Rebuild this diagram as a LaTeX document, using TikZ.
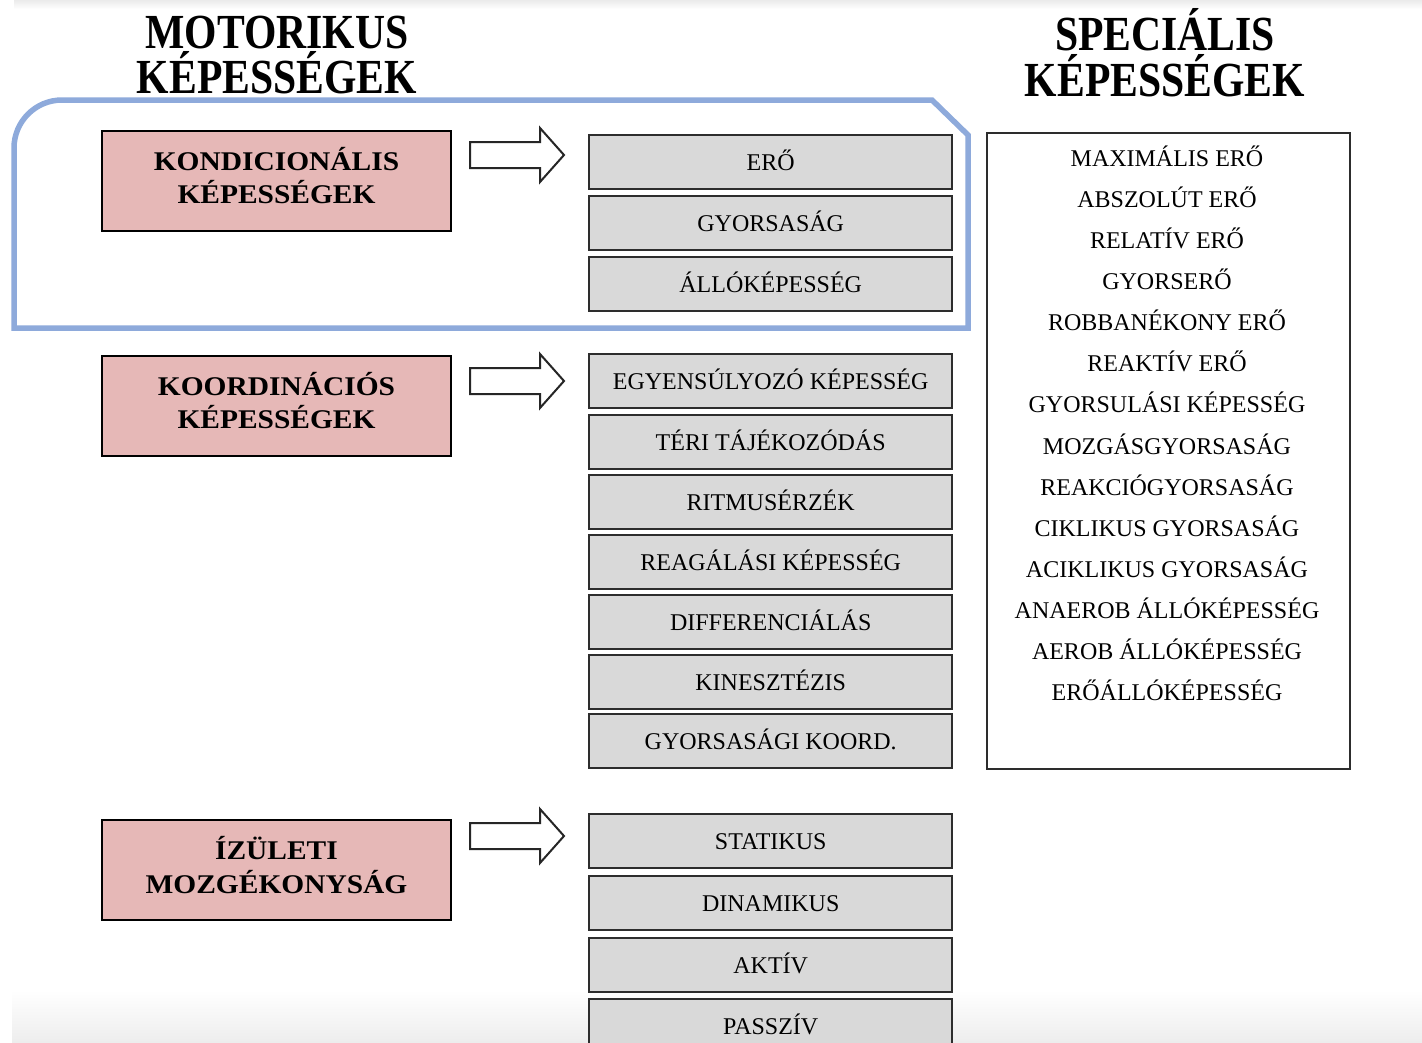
\documentclass[tikz,border=0pt]{standalone}
\usepackage{fontspec}
\setmainfont{Liberation Serif}
\newfontfamily\titlefont[FakeStretch=0.85]{Liberation Serif}
\newfontfamily\boxfont[FakeStretch=1.09]{Liberation Serif}
\definecolor{graybg}{RGB}{217,217,217}
\definecolor{pinkbg}{RGB}{230,184,183}
\definecolor{frameblue}{RGB}{142,170,219}
\definecolor{edgegray}{RGB}{45,45,45}
\tikzset{
  graybox/.style={draw=edgegray, line width=2.4pt, fill=graybg, minimum width=363pt,
    minimum height=54pt, inner sep=0pt, text height=16pt, text depth=0pt,
    font=\fontsize{24}{28}\selectfont, anchor=north west},
  pinkbox/.style={draw=black, line width=2pt, fill=pinkbg, minimum width=349pt,
    minimum height=100pt, inner sep=0pt, anchor=north west},
  pinktext/.style={anchor=base, inner sep=0pt, font=\boxfont\bfseries\fontsize{27}{30}\selectfont},
  titletext/.style={anchor=base, inner sep=0pt, font=\titlefont\bfseries\fontsize{49}{52}\selectfont},
  listtext/.style={anchor=base, inner sep=0pt, font=\fontsize{24}{28}\selectfont},
  listbox/.style={draw=edgegray, line width=2.4pt, fill=white, minimum width=363pt,
    minimum height=636pt, inner sep=0pt, anchor=north west},
  blockarrow/.style={draw=black!85, line width=2pt, fill=white, line join=miter},
  frame/.style={draw=frameblue, line width=5.5pt, line join=miter}
}
\begin{document}
\begin{tikzpicture}[x=1pt,y=-1pt]
\useasboundingbox (0,0) rectangle (1422,1042);
\clip (0,0) rectangle (1422,1042);
% background artefacts
\fill[white] (0,0) rectangle (1422,1042);
\shade[top color=white, bottom color=black!7] (12,990) rectangle (1422,1042);
\shade[top color=black!8, bottom color=white] (14,0) rectangle (1422,9);

% titles
\node[titletext] (t1a) at (277,48) {MOTORIKUS};
\node[titletext] (t1b) at (277,93) {KÉPESSÉGEK};
\node[titletext] (t2a) at (1165,50) {SPECIÁLIS};
\node[titletext] (t2b) at (1165,96) {KÉPESSÉGEK};

% blue frame
\path[frame] (14,328) -- (14,148) .. controls (14,121.5) and (35.5,100) .. (62,100)
  -- (932,100) -- (968,135) -- (968,328) -- cycle;

% pink boxes
\node[pinkbox] (k) at (101,130) {};
\node[pinktext] (k1) at ([yshift=11pt]k.center) {KONDICIONÁLIS};
\node[pinktext] (k2) at ([yshift=-22pt]k.center) {KÉPESSÉGEK};
\node[pinkbox] (c) at (101,355) {};
\node[pinktext] (c1) at ([yshift=11pt]c.center) {KOORDINÁCIÓS};
\node[pinktext] (c2) at ([yshift=-22pt]c.center) {KÉPESSÉGEK};
\node[pinkbox] (z) at (101,819) {};
\node[pinktext] (z1) at ([yshift=11pt]z.center) {ÍZÜLETI};
\node[pinktext] (z2) at ([yshift=-23pt]z.center) {MOZGÉKONYSÁG};

% block arrows
\foreach \n/\yy in {a1/155, a2/381, a3/836}{
  \coordinate (\n) at (470,\yy);
  \draw[blockarrow] (\n) ++(0,-13) -- ++(70,0) -- ++(0,-14) -- ++(24,27) -- ++(-24,27)
     -- ++(0,-14) -- ++(-70,0) -- cycle;
}

% gray boxes
\foreach \n/\yy/\t in {
  g1/134/ERŐ, g2/195/GYORSASÁG, g3/256/ÁLLÓKÉPESSÉG,
  g4/353/EGYENSÚLYOZÓ KÉPESSÉG, g5/414/TÉRI TÁJÉKOZÓDÁS, g6/474/RITMUSÉRZÉK,
  g7/534/REAGÁLÁSI KÉPESSÉG, g8/594/DIFFERENCIÁLÁS, g9/654/KINESZTÉZIS,
  g10/713/GYORSASÁGI KOORD.,
  g11/813/STATIKUS, g12/875/DINAMIKUS, g13/937/AKTÍV, g14/998/PASSZÍV}{
  \node[graybox] (\n) at (588,\yy) {\t};
}

% special list box
\node[listbox] (sp) at (986,132) {};
\foreach \t [count=\i from 0] in {MAXIMÁLIS ERŐ, ABSZOLÚT ERŐ, RELATÍV ERŐ, GYORSERŐ,
  ROBBANÉKONY ERŐ, REAKTÍV ERŐ, GYORSULÁSI KÉPESSÉG, MOZGÁSGYORSASÁG,
  REAKCIÓGYORSASÁG, CIKLIKUS GYORSASÁG, ACIKLIKUS GYORSASÁG, ANAEROB ÁLLÓKÉPESSÉG,
  AEROB ÁLLÓKÉPESSÉG, ERŐÁLLÓKÉPESSÉG}{
  \node[listtext] (s\i) at (1167,{166+41.15*\i}) {\t};
}
\end{tikzpicture}
\end{document}
